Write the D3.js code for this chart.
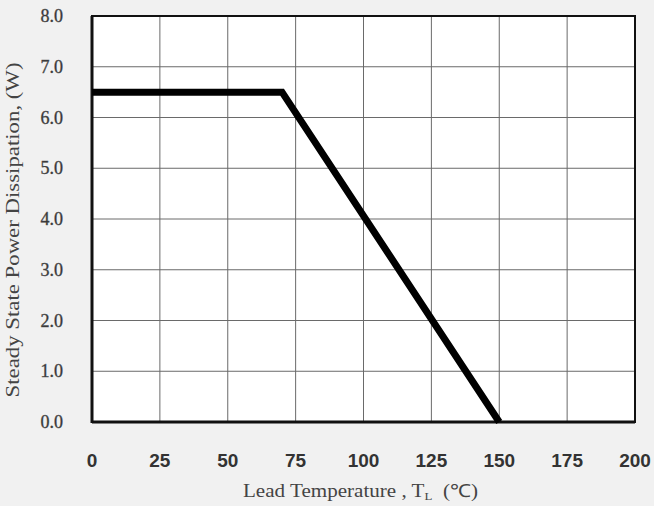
<!DOCTYPE html>
<html>
<head>
<meta charset="utf-8">
<script src="https://cdn.jsdelivr.net/npm/d3@7"></script>
<style>
  body { margin: 0; background: #f1f1f1; }
  svg { display: block; }
</style>
</head>
<body>
<div id="chart"></div>
<script>
// data
var temps = [0, 70, 150]
var power = [6.5, 6.5, 0]
var xTicks = [0, 25, 50, 75, 100, 125, 150, 175, 200]
var yTicks = [0, 1, 2, 3, 4, 5, 6, 7, 8]

var W = 654, H = 506
var plotL = 92, plotR = 635, plotT = 16, plotB = 422

var svg = d3.select("#chart").append("svg")
  .attr("width", W)
  .attr("height", H)

svg.append("rect")
  .attr("width", W).attr("height", H)
  .attr("fill", "#f1f1f1")

var x = d3.scaleLinear().domain([0, 200]).range([plotL, plotR])
var y = d3.scaleLinear().domain([0, 8]).range([plotB, plotT])

svg.append("rect")
  .attr("x", plotL).attr("y", plotT)
  .attr("width", plotR - plotL).attr("height", plotB - plotT)
  .attr("fill", "white")

// grid
svg.append("g").selectAll("line")
  .data(xTicks)
  .enter().append("line")
  .attr("x1", function(d){ return x(d) })
  .attr("x2", function(d){ return x(d) })
  .attr("y1", plotT).attr("y2", plotB)
  .attr("stroke", "#6a6a6a")
  .attr("stroke-width", 1)

svg.append("g").selectAll("line")
  .data(yTicks)
  .enter().append("line")
  .attr("x1", plotL).attr("x2", plotR)
  .attr("y1", function(d){ return y(d) })
  .attr("y2", function(d){ return y(d) })
  .attr("stroke", "#6a6a6a")
  .attr("stroke-width", 1)

// frame
svg.append("rect")
  .attr("x", plotL).attr("y", plotT)
  .attr("width", plotR - plotL).attr("height", plotB - plotT)
  .attr("fill", "none")
  .attr("stroke", "#111")
  .attr("stroke-width", 2)
svg.append("line")
  .attr("x1", plotL).attr("x2", plotL).attr("y1", plotT).attr("y2", plotB + 1)
  .attr("stroke", "#111").attr("stroke-width", 3)
svg.append("line")
  .attr("x1", plotL).attr("x2", plotR).attr("y1", plotB).attr("y2", plotB)
  .attr("stroke", "#111").attr("stroke-width", 3)

// curve
var pts = temps.map(function(t, i){ return [t, power[i]] })
var line = d3.line()
  .x(function(d){ return x(d[0]) })
  .y(function(d){ return y(d[1]) })

svg.append("path")
  .datum(pts)
  .attr("d", line)
  .attr("fill", "none")
  .attr("stroke", "black")
  .attr("stroke-width", 7)
  .attr("stroke-linejoin", "miter")

// y tick labels
svg.append("g").selectAll("text")
  .data(yTicks)
  .enter().append("text")
  .attr("x", 63)
  .attr("y", function(d){ return y(d) + 6 })
  .attr("text-anchor", "end")
  .attr("font-family", "Liberation Serif, serif")
  .attr("font-size", 18)
  .attr("fill", "#333")
  .attr("stroke", "#555")
  .attr("stroke-width", 0.4)
  .text(function(d){ return d.toFixed(1) })

// x tick labels
svg.append("g").selectAll("text")
  .data(xTicks)
  .enter().append("text")
  .attr("x", function(d){ return x(d) })
  .attr("y", 467)
  .attr("text-anchor", "middle")
  .attr("font-family", "Liberation Sans, Arial, sans-serif")
  .attr("font-size", 19)
  .attr("font-weight", "bold")
  .attr("fill", "#333")
  .text(function(d){ return d })

// axis titles
var xt = svg.append("text")
  .attr("x", 243)
  .attr("y", 497)
  .attr("font-family", "Liberation Serif, serif")
  .attr("font-size", 18)
  .attr("fill", "#444")
  .attr("textLength", 235)
  .attr("lengthAdjust", "spacingAndGlyphs")
xt.append("tspan").text("Lead Temperature , T")
xt.append("tspan").attr("font-size", 11).attr("dy", 3).text("L")
xt.append("tspan").attr("dy", -3).attr("xml:space", "preserve").text("  (\u2103)")

svg.append("text")
  .attr("transform", "translate(19,230) rotate(-90)")
  .attr("text-anchor", "middle")
  .attr("font-family", "Liberation Serif, serif")
  .attr("font-size", 19)
  .attr("textLength", 335)
  .attr("lengthAdjust", "spacingAndGlyphs")
  .attr("fill", "#444")
  .text("Steady State Power Dissipation, (W)")
</script>
</body>
</html>
